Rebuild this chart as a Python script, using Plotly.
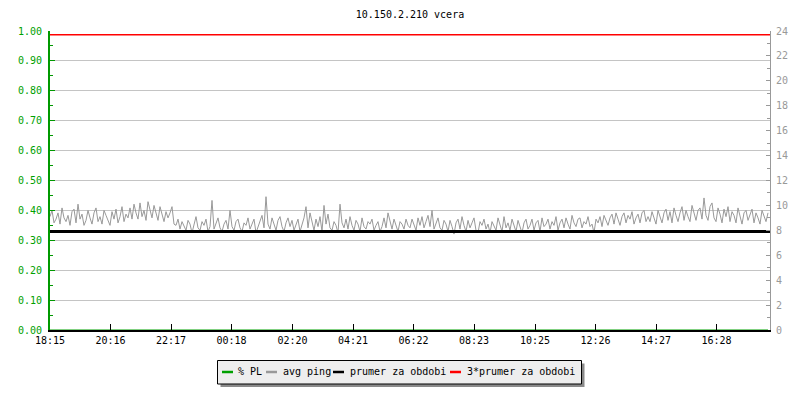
import plotly.graph_objects as go

# ---- data ----
title_text = "10.150.2.210 vcera"
tick_labels = ["18:15", "20:16", "22:17", "00:18", "02:20", "04:21",
               "06:22", "08:23", "10:25", "12:26", "14:27", "16:28"]
start_label = "18:15"
sample_step_min = 4
span_min = 1440

avg_ping = [
    # 18:15 - 22:15
    9.1, 9.6, 8.6, 8.9, 9.4, 8.5, 9.8, 9.0, 8.7, 9.2, 8.4, 9.5, 9.7, 8.6, 10.1, 8.9, 9.3, 8.4, 8.8, 9.6,
    9.0, 8.5, 9.4, 9.8, 8.7, 9.1, 8.5, 9.6, 9.2, 8.8, 8.4, 9.5, 8.9, 9.7, 8.6, 9.1, 9.9, 8.7, 9.3, 9.0,
    9.8, 8.9, 10.1, 9.4, 8.9, 10.2, 9.1, 9.6, 8.8, 10.3, 9.5, 9.0, 10.0, 9.3, 8.8, 9.9, 9.2, 8.7, 9.5, 9.0,
    # 22:15 - 02:15
    9.4, 9.9, 8.5, 8.4, 8.9, 8.1, 8.7, 8.3, 8.0, 8.8, 8.5, 7.8, 8.6, 9.1, 8.2, 8.0, 8.7, 8.4, 8.9, 7.9,
    8.3, 10.4, 8.1, 8.6, 9.0, 8.2, 7.9, 8.5, 8.8, 8.1, 9.6, 8.3, 8.0, 8.7, 8.9, 8.2, 7.9, 8.6, 8.4, 9.0,
    8.1, 8.5, 8.9, 7.8, 8.3, 8.7, 9.2, 8.2, 10.7, 8.5, 8.1, 9.0, 8.4, 8.0, 8.8, 9.1, 8.3, 7.9, 8.6, 9.0,
    # 02:15 - 06:15
    8.3, 8.8, 8.0, 8.5, 8.9, 7.9, 8.4, 9.0, 9.9, 8.2, 9.4, 8.6, 8.0, 8.9, 8.3, 9.1, 7.9, 10.0, 8.5, 9.3,
    8.2, 8.0, 8.7, 8.4, 7.8, 10.1, 8.6, 8.2, 8.9, 8.1, 9.1, 8.4, 8.0, 8.8, 8.5, 7.9, 9.0, 8.3, 8.1, 8.7,
    8.5, 8.9, 8.0, 8.4, 8.7, 7.9, 8.3, 9.0, 8.2, 9.4, 8.6, 8.1, 8.9, 8.3, 7.9, 8.7, 8.5, 8.1, 8.9, 8.4,
    # 06:15 - 10:15
    8.2, 8.9, 8.5, 8.0, 9.0, 8.4, 9.1, 8.2, 8.7, 9.2, 8.3, 9.6, 8.1, 8.6, 9.0, 8.2, 8.0, 8.8, 8.5, 7.9,
    8.8, 8.3, 7.7, 8.6, 8.9, 8.1, 9.1, 8.4, 7.9, 8.8, 8.2, 8.6, 9.0, 8.0, 7.8, 8.7, 8.4, 8.9, 8.1, 8.5,
    7.8, 8.7, 8.3, 8.0, 9.0, 8.5, 7.9, 9.1, 8.2, 8.6, 8.0, 8.9, 8.4, 7.9, 8.8, 8.3, 7.8, 8.6, 8.9, 8.1,
    # 10:15 - 14:15
    8.4, 8.9, 8.0, 8.6, 8.8, 7.9, 9.0, 8.3, 8.5, 8.9, 8.1, 8.7, 8.4, 9.1, 8.0, 8.6, 8.9, 8.2, 9.0, 8.5,
    8.1, 9.2, 8.6, 8.3, 8.9, 9.0, 8.2, 8.7, 8.5, 9.1, 8.3, 8.5, 7.8, 8.9, 8.6, 9.1, 8.3, 9.2, 8.8, 8.4,
    9.0, 9.3, 8.5, 9.4, 8.9, 8.4, 9.1, 9.4, 8.6, 9.2, 8.9, 9.5, 8.5, 9.0, 9.3, 8.6, 9.4, 9.6, 8.7, 9.1,
    # 14:15 - 18:15
    8.7, 9.5, 9.0, 8.5, 9.6, 9.1, 8.6, 9.4, 9.7, 8.8, 9.5, 8.6, 9.8, 9.2, 8.7, 9.4, 9.9, 8.8, 9.6, 9.1,
    8.7, 10.0, 9.3, 8.8, 9.6, 9.8, 8.9, 10.6, 9.2, 8.8, 9.9, 10.2, 9.0, 8.7, 9.8, 9.3, 8.6, 9.7, 9.1, 9.9,
    8.7, 9.5, 9.2, 8.6, 9.8, 9.0, 8.5, 9.4, 9.6, 8.8, 9.2, 9.7, 8.6, 9.4, 9.0, 8.5, 9.6, 9.1, 8.7, 9.4,
]
packet_loss = [0.0] * len(avg_ping)
prumer = 7.9
trojnasobek = 23.7

series_names = ["% PL", "avg ping", "prumer za obdobi", "3*prumer za obdobi"]
series_colors = ["#00a000", "#999999", "#000000", "#ff0000"]

# ---- derived ----
def to_min(lbl):
    h, m = map(int, lbl.split(":"))
    h0, m0 = map(int, start_label.split(":"))
    return ((h * 60 + m) - (h0 * 60 + m0)) % 1440

tick_vals = [to_min(t) for t in tick_labels]
x = [i * sample_step_min for i in range(len(avg_ping))]

FONT = "DejaVu Sans Mono"
GREEN = "#009900"
GREY_AX = "#999999"
GRID = "#c4c4c4"

fig = go.Figure()
fig.add_trace(go.Scatter(x=x, y=packet_loss, mode="lines", yaxis="y",
                         line=dict(color=series_colors[0], width=1), name=series_names[0]))
fig.add_trace(go.Scatter(x=x, y=avg_ping, mode="lines", yaxis="y2",
                         line=dict(color=series_colors[1], width=1), name=series_names[1]))
fig.add_trace(go.Scatter(x=[0, span_min], y=[prumer, prumer], mode="lines", yaxis="y2",
                         line=dict(color=series_colors[2], width=3), name=series_names[2]))
fig.add_trace(go.Scatter(x=[0, span_min], y=[trojnasobek, trojnasobek], mode="lines", yaxis="y2",
                         line=dict(color=series_colors[3], width=1.5), name=series_names[3]))

left_ticks = [round(i * 0.1, 2) for i in range(11)]
right_ticks = list(range(0, 25, 2))

# plot area in pixels: x 50..770, y 31..330
L, R, T, B = 50, 770, 31, 330
def px(v):
    return (v - L) / (R - L)
def py(v):
    return (B - v) / (B - T)

shapes = [
    dict(type="rect", xref="paper", yref="paper", x0=px(220.5), x1=px(584.5), y0=py(387), y1=py(363.5),
         fillcolor="#8a8a8a", line=dict(width=0), layer="above"),
    dict(type="rect", xref="paper", yref="paper", x0=px(217.5), x1=px(581.5), y0=py(384), y1=py(360.5),
         fillcolor="#eeeeee", line=dict(color="#000000", width=1), layer="above"),
]
annotations = []
legend_items = [(222, 236), (266, 281), (333, 348), (450, 465)]
for (sx, tx), name, col in zip(legend_items, series_names, series_colors):
    shapes.append(dict(type="line", xref="paper", yref="paper", x0=px(sx), x1=px(sx + 11),
                       y0=py(372), y1=py(372), line=dict(color=col, width=2.5), layer="above"))
    annotations.append(dict(xref="paper", yref="paper", x=px(tx), y=py(371.5), text=name,
                            showarrow=False, xanchor="left", yanchor="middle",
                            font=dict(family=FONT, size=10, color="#000000")))

fig.update_layout(
    width=800, height=400, autosize=False,
    margin=dict(l=L, r=800 - R, t=T, b=400 - B),
    paper_bgcolor="#ffffff", plot_bgcolor="#ffffff",
    showlegend=False,
    font=dict(family=FONT, size=10, color="#000000"),
    title=dict(text=title_text, x=0.5, xref="paper", xanchor="center",
               y=1 - 14 / 400, yref="container", yanchor="middle",
               font=dict(family=FONT, size=10, color="#000000")),
    xaxis=dict(range=[0, span_min], tickmode="array", tickvals=tick_vals, ticktext=tick_labels,
               showgrid=False, zeroline=False, showline=True, linecolor="#000000", linewidth=2,
               ticks="inside", ticklen=6, tickwidth=1, tickcolor="#000000",
               tickfont=dict(family=FONT, size=10, color="#000000")),
    yaxis=dict(range=[0, 1], tickmode="array", tickvals=left_ticks, tickformat=".2f",
               showgrid=True, gridcolor=GRID, gridwidth=1, zeroline=False,
               showline=True, linecolor=GREEN, linewidth=2,
               ticks="inside", ticklen=5, tickwidth=1, tickcolor=GREEN,
               ticklabelstandoff=4,
               tickfont=dict(family=FONT, size=10, color="#00a000"),
               minor=dict(tickmode="linear", tick0=0, dtick=0.05, ticks="inside", ticklen=3,
                          tickcolor=GREEN, showgrid=False)),
    yaxis2=dict(range=[0, 24], overlaying="y", side="right", tickmode="array", tickvals=right_ticks,
                showgrid=False, zeroline=False, showline=True, linecolor=GREY_AX, linewidth=1,
                ticks="inside", ticklen=4, tickwidth=1, tickcolor=GREY_AX,
                ticklabelstandoff=3,
                tickfont=dict(family=FONT, size=10, color=GREY_AX),
                minor=dict(tickmode="linear", tick0=0, dtick=1, ticks="inside", ticklen=3,
                           tickcolor=GREY_AX, showgrid=False)),
    shapes=shapes,
    annotations=annotations,
)

fig.write_html("out.html", config={"displayModeBar": False},
               post_script="document.body.style.margin='0';document.body.style.padding='0';")
